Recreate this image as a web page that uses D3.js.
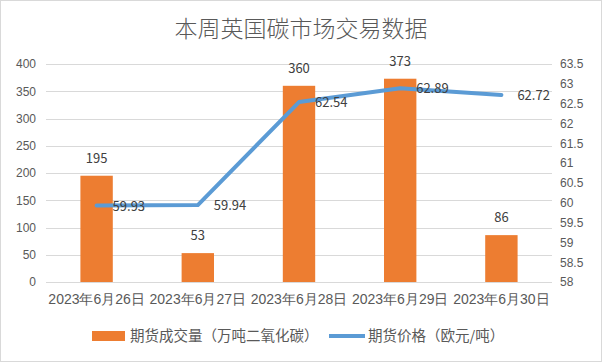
<!DOCTYPE html>
<html>
<head>
<meta charset="utf-8">
<script src="https://cdn.jsdelivr.net/npm/d3@7"></script>
<style>
  body { margin: 0; background: #fff; }
  svg { display: block; font-family: "Noto Sans CJK SC", "Noto Sans", sans-serif; }
</style>
</head>
<body>
<script>
  // chart data
  var dates = ["2023年6月26日", "2023年6月27日", "2023年6月28日", "2023年6月29日", "2023年6月30日"];
  var volume = [195, 53, 360, 373, 86];
  var price = [59.93, 59.94, 62.54, 62.89, 62.72];
  var leftTicks = [0, 50, 100, 150, 200, 250, 300, 350, 400];
  var rightTicks = [58, 58.5, 59, 59.5, 60, 60.5, 61, 61.5, 62, 62.5, 63, 63.5];
  var seriesNames = ["期货成交量（万吨二氧化碳）", "期货价格（欧元/吨）"];

  var W = 602, H = 362;
  var margin = {top: 64, right: 50, bottom: 80, left: 46},
      width = W - margin.left - margin.right,
      height = H - margin.top - margin.bottom;

  var svg = d3.select("body").append("svg")
    .attr("width", W)
    .attr("height", H);

  // outer border
  svg.append("rect")
    .attr("x", 0.5).attr("y", 0.5)
    .attr("width", W - 1).attr("height", H - 1)
    .attr("fill", "#fff").attr("stroke", "#d9d9d9");

  svg.append("text")
    .attr("x", W / 2).attr("y", 37)
    .attr("text-anchor", "middle")
    .attr("font-size", 23)
    .attr("font-weight", 300)
    .attr("fill", "#595959")
    .text("本周英国碳市场交易数据");

  var g = svg.append("g")
    .attr("transform", "translate(" + margin.left + "," + margin.top + ")");

  var x = d3.scaleBand().domain(dates).range([0, width]).paddingInner(0.68).paddingOuter(0.34);
  var xc = d3.scalePoint().domain(dates).range([0, width]).padding(0.5);
  var y = d3.scaleLinear().domain([0, 400]).range([height, 0]);
  var y2 = d3.scaleLinear().domain([58, 63.5]).range([height, 0]);

  // gridlines
  g.selectAll(".grid").data(leftTicks).enter().append("line")
    .attr("x1", 0).attr("x2", width)
    .attr("y1", function(d) { return Math.round(y(d)) + 0.5; })
    .attr("y2", function(d) { return Math.round(y(d)) + 0.5; })
    .attr("stroke", "#d9d9d9");

  // left axis
  var yAxis = g.append("g")
    .call(d3.axisLeft(y).tickValues(leftTicks).tickSize(0).tickPadding(10));
  yAxis.select(".domain").remove();
  yAxis.selectAll("text").attr("font-size", 12).attr("fill", "#595959");

  // right axis
  var yAxis2 = g.append("g")
    .attr("transform", "translate(" + width + ",0)")
    .call(d3.axisRight(y2).tickValues(rightTicks).tickSize(0).tickPadding(8).tickFormat(d3.format("")));
  yAxis2.select(".domain").remove();
  yAxis2.selectAll("text").attr("font-size", 12).attr("fill", "#595959");

  // x axis
  var xAxis = g.append("g")
    .attr("transform", "translate(0," + height + ")")
    .call(d3.axisBottom(x).tickSize(0).tickPadding(12));
  xAxis.select(".domain").remove();
  xAxis.selectAll("text").attr("font-size", 14).attr("fill", "#595959");

  // bars
  g.selectAll(".bar").data(volume).enter().append("rect")
    .attr("x", function(d, i) { return x(dates[i]); })
    .attr("y", function(d) { return y(d); })
    .attr("width", x.bandwidth())
    .attr("height", function(d) { return height - y(d); })
    .attr("fill", "#ed7d31");

  g.selectAll(".barlabel").data(volume).enter().append("text")
    .attr("x", function(d, i) { return xc(dates[i]); })
    .attr("y", function(d) { return y(d) - 13; })
    .attr("text-anchor", "middle")
    .attr("font-size", 13)
    .attr("fill", "#404040")
    .text(function(d) { return d; });

  // price line
  var line = d3.line()
    .x(function(d, i) { return xc(dates[i]); })
    .y(function(d) { return y2(d); });

  g.append("path")
    .datum(price)
    .attr("d", line)
    .attr("fill", "none")
    .attr("stroke", "#5b9bd5")
    .attr("stroke-width", 4)
    .attr("stroke-linecap", "round")
    .attr("stroke-linejoin", "round");

  g.selectAll(".linelabel").data(price).enter().append("text")
    .attr("x", function(d, i) { return xc(dates[i]) + 16; })
    .attr("y", function(d) { return y2(d) + 5; })
    .attr("font-size", 13)
    .attr("fill", "#404040")
    .text(function(d) { return d3.format(".2f")(d); });

  // legend
  var legend = svg.append("g").attr("transform", "translate(0,336)");
  legend.append("rect")
    .attr("x", 92).attr("y", -5).attr("width", 33).attr("height", 10)
    .attr("fill", "#ed7d31");
  legend.append("text")
    .attr("x", 130).attr("y", 5)
    .attr("font-size", 14.5).attr("fill", "#595959")
    .text(seriesNames[0]);
  legend.append("line")
    .attr("x1", 329).attr("x2", 365).attr("y1", 0).attr("y2", 0)
    .attr("stroke", "#5b9bd5").attr("stroke-width", 4);
  legend.append("text")
    .attr("x", 368).attr("y", 5)
    .attr("font-size", 14.5).attr("fill", "#595959")
    .text(seriesNames[1]);
</script>
</body>
</html>
